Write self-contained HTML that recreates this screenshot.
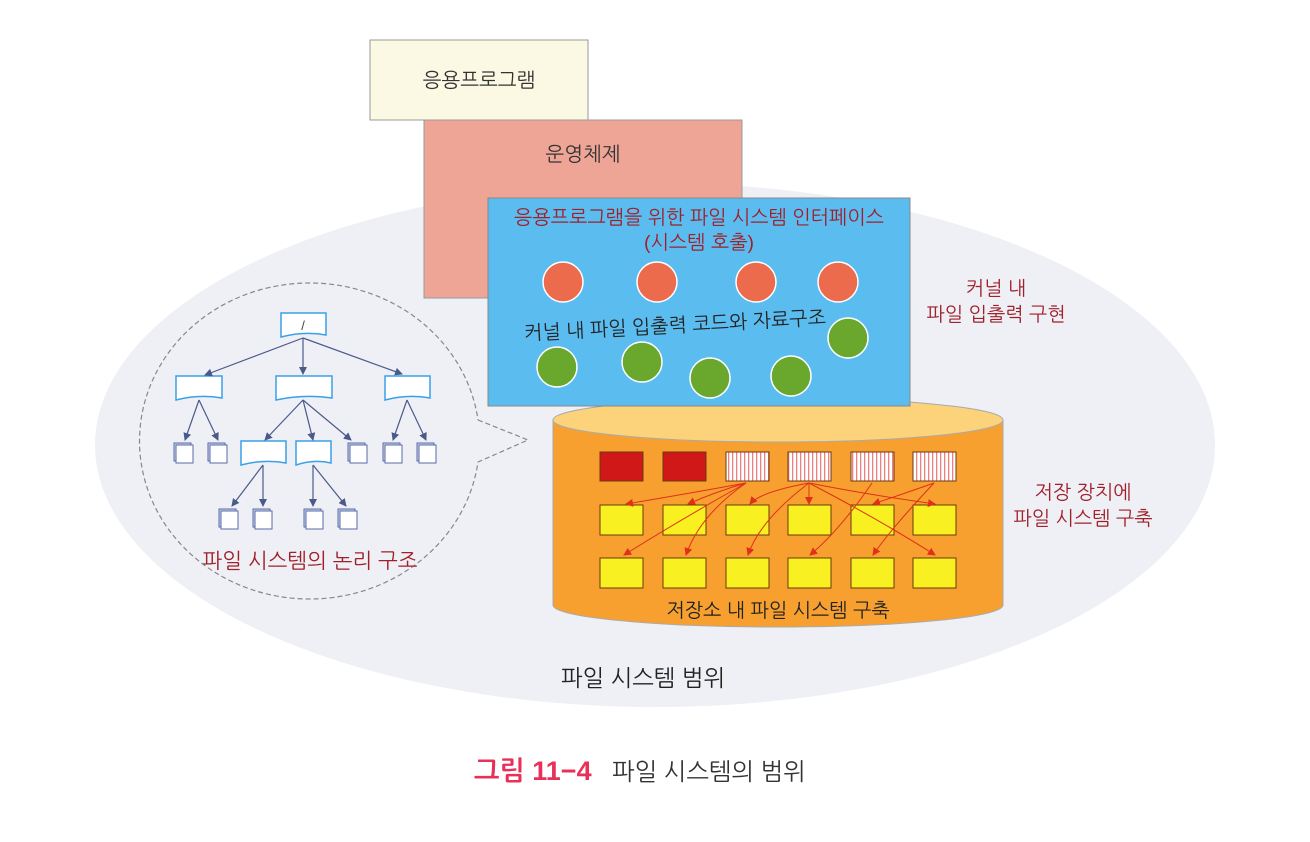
<!DOCTYPE html>
<html><head><meta charset="utf-8"><style>
html,body{margin:0;padding:0;background:#fff;}
svg{display:block;font-family:"Liberation Sans","NanumGothic","Noto Sans CJK KR",sans-serif;}
</style></head><body>
<svg width="1310" height="842" viewBox="0 0 1310 842" xmlns="http://www.w3.org/2000/svg">
<defs>
<marker id="ab" markerWidth="8" markerHeight="8" refX="7" refY="4" orient="auto" markerUnits="userSpaceOnUse"><path d="M0,0 L8,4 L0,8 z" fill="#4a5a8a"/></marker>
<marker id="ar" markerWidth="8" markerHeight="8" refX="7" refY="4" orient="auto" markerUnits="userSpaceOnUse"><path d="M0,0 L8,4 L0,8 z" fill="#e0301a"/></marker>
<pattern id="st" width="4" height="4" patternUnits="userSpaceOnUse"><rect width="4" height="4" fill="#fff"/><rect width="1.3" height="4" fill="#f08080"/></pattern>
<g id="file"><rect x="-2" y="-2" width="17" height="18" fill="#c8d4ee" stroke="#5a6aa8" stroke-width="1"/><rect x="0" y="0" width="17" height="18" fill="#fff" stroke="#5a6aa8" stroke-width="1"/></g>
</defs>
<ellipse cx="655" cy="445" rx="560" ry="262" fill="#eef0f5"/>
<!-- bubble -->
<path d="M478,420 L528,440 L478,462 A170 158 0 1 1 478,420" fill="none" stroke="#888" stroke-width="1.2" stroke-dasharray="5,3"/>
<!-- tree -->
<g fill="#fff" stroke="#3aa0e8" stroke-width="1.5">
<path d="M281,313 h45 v22 q-22,-4 -45,2 z"/>
<path d="M176,376 h46 v22 q-23,-4 -46,2 z"/>
<path d="M276,376 h56 v22 q-28,-4 -56,2 z"/>
<path d="M385,376 h45 v22 q-22,-4 -45,2 z"/>
<path d="M241,441 h45 v22 q-22,-4 -45,2 z"/>
<path d="M296,441 h35 v22 q-17,-4 -35,2 z"/>
</g>
<g stroke="#4a5a8a" stroke-width="1.2" marker-end="url(#ab)">
<line x1="303" y1="338" x2="205" y2="375"/><line x1="303" y1="338" x2="303" y2="374"/><line x1="303" y1="338" x2="402" y2="374"/>
<line x1="199" y1="400" x2="185" y2="440"/><line x1="199" y1="400" x2="218" y2="440"/>
<line x1="303" y1="400" x2="265" y2="440"/><line x1="303" y1="400" x2="313" y2="440"/><line x1="303" y1="400" x2="351" y2="440"/>
<line x1="407" y1="400" x2="393" y2="440"/><line x1="407" y1="400" x2="426" y2="440"/>
<line x1="263" y1="465" x2="232" y2="506"/><line x1="263" y1="465" x2="263" y2="506"/>
<line x1="313" y1="465" x2="313" y2="506"/><line x1="313" y1="465" x2="346" y2="506"/>
</g>
<text x="303" y="330" font-size="13" fill="#444" text-anchor="middle">/</text>
<use href="#file" x="176" y="445"/><use href="#file" x="210" y="445"/><use href="#file" x="350" y="445"/><use href="#file" x="385" y="445"/><use href="#file" x="419" y="445"/>
<use href="#file" x="221" y="511"/><use href="#file" x="255" y="511"/><use href="#file" x="306" y="511"/><use href="#file" x="340" y="511"/>
<text x="310" y="568" font-size="21" fill="#a0202a" text-anchor="middle">파일 시스템의 논리 구조</text>
<!-- boxes -->
<rect x="370" y="40" width="218" height="80" fill="#fbf9e4" stroke="#999"/>
<text x="479" y="87" font-size="20" fill="#333" text-anchor="middle">응용프로그램</text>
<rect x="424" y="120" width="318" height="178" fill="#eea595" stroke="#999"/>
<text x="583" y="161" font-size="20" fill="#333" text-anchor="middle">운영체제</text>
<!-- cylinder -->
<path d="M553,420 L553,605 A225,22 0 0 0 1003,605 L1003,420 Z" fill="#f7a030" stroke="#aaa"/>
<ellipse cx="778" cy="420" rx="225" ry="22" fill="#fcd27a" stroke="#aaa"/>
<rect x="488" y="198" width="422" height="208" fill="#5bbcef" stroke="#888"/>
<text x="699" y="224" font-size="19.5" fill="#a0202a" text-anchor="middle">응용프로그램을 위한 파일 시스템 인터페이스</text>
<text x="699" y="249" font-size="19.5" fill="#a0202a" text-anchor="middle">(시스템 호출)</text>
<g fill="#ec6b4c" stroke="#fff" stroke-width="1.5">
<circle cx="563" cy="282" r="20"/><circle cx="657" cy="282" r="20"/><circle cx="756" cy="282" r="20"/><circle cx="838" cy="282" r="20"/>
</g>
<g fill="#6aa82d" stroke="#fff" stroke-width="1.5">
<circle cx="848" cy="338" r="20"/><circle cx="557" cy="367" r="20"/><circle cx="642" cy="362" r="20"/><circle cx="710" cy="378" r="20"/><circle cx="791" cy="376" r="20"/>
</g>
<text x="675" y="332" font-size="19.5" fill="#222" text-anchor="middle" transform="rotate(-3 675 325)">커널 내 파일 입출력 코드와 자료구조</text>
<!-- storage blocks -->
<g stroke="#6a3a10" stroke-width="1">
<rect x="600" y="452" width="43" height="29" fill="#d01818"/><rect x="663" y="452" width="43" height="29" fill="#d01818"/>
<rect x="726" y="452" width="43" height="29" fill="url(#st)"/><rect x="788" y="452" width="43" height="29" fill="url(#st)"/>
<rect x="851" y="452" width="43" height="29" fill="url(#st)"/><rect x="913" y="452" width="43" height="29" fill="url(#st)"/>
</g>
<g fill="#f8f020" stroke="#6a3a10" stroke-width="1">
<rect x="600" y="505" width="43" height="30"/><rect x="663" y="505" width="43" height="30"/><rect x="726" y="505" width="43" height="30"/><rect x="788" y="505" width="43" height="30"/><rect x="851" y="505" width="43" height="30"/><rect x="913" y="505" width="43" height="30"/>
<rect x="600" y="558" width="43" height="30"/><rect x="663" y="558" width="43" height="30"/><rect x="726" y="558" width="43" height="30"/><rect x="788" y="558" width="43" height="30"/><rect x="851" y="558" width="43" height="30"/><rect x="913" y="558" width="43" height="30"/>
</g>
<g fill="none" stroke="#e0301a" stroke-width="1" marker-end="url(#ar)">
<path d="M746,483 Q680,495 626,504"/><path d="M746,483 Q715,492 688,504"/><path d="M746,483 Q680,520 624,555"/><path d="M746,483 Q700,515 686,555"/>
<path d="M809,483 Q760,492 750,504"/><path d="M809,483 L809,504"/><path d="M809,483 Q870,495 935,504"/><path d="M809,483 Q760,520 748,555"/><path d="M809,483 Q880,520 935,555"/>
<path d="M872,483 Q840,530 810,555"/>
<path d="M934,483 Q900,495 873,504"/><path d="M934,483 Q890,530 873,555"/>
</g>
<text x="778" y="617" font-size="19.5" fill="#222" text-anchor="middle">저장소 내 파일 시스템 구축</text>
<!-- side labels -->
<text x="996" y="295" font-size="19.5" fill="#a0202a" text-anchor="middle">커널 내</text>
<text x="996" y="321" font-size="19.5" fill="#a0202a" text-anchor="middle">파일 입출력 구현</text>
<text x="1083" y="499" font-size="19.5" fill="#a0202a" text-anchor="middle">저장 장치에</text>
<text x="1083" y="525" font-size="19.5" fill="#a0202a" text-anchor="middle">파일 시스템 구축</text>
<text x="643" y="686" font-size="23" fill="#222" text-anchor="middle">파일 시스템 범위</text>
<text x="474" y="780" font-size="27" font-weight="bold" fill="#e8305a">그림 11−4</text>
<text x="612" y="780" font-size="24" fill="#333">파일 시스템의 범위</text>
</svg>
</body></html>
